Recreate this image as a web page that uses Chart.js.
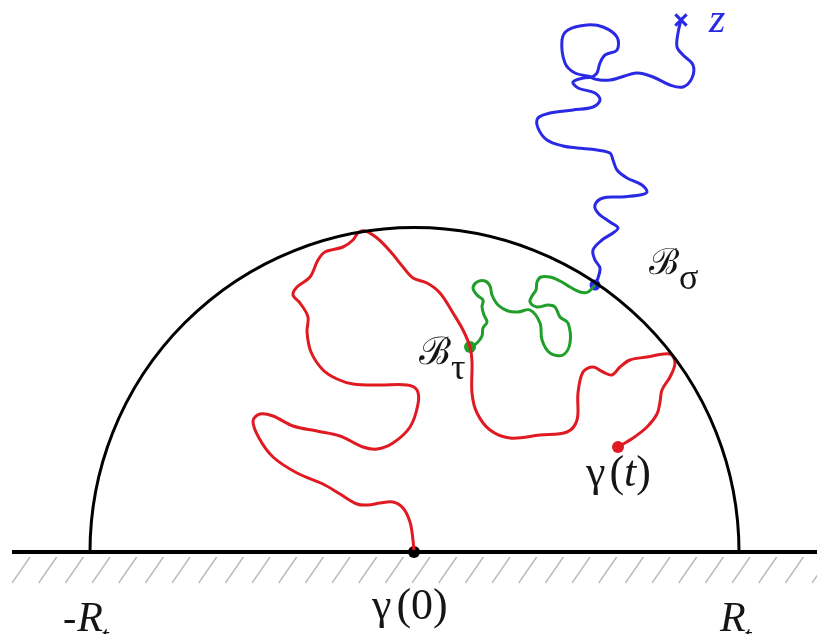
<!DOCTYPE html>
<html>
<head>
<meta charset="utf-8">
<title>Half disc with Brownian paths</title>
<script src="https://cdn.jsdelivr.net/npm/chart.js@4.4.1/dist/chart.umd.min.js"></script>
<style>
  html, body { margin: 0; padding: 0; background: #fff; }
  #wrap { width: 817px; height: 634px; }
</style>
</head>
<body>
<div id="wrap"><canvas id="diagram" width="817" height="634"></canvas></div>
<script>
// ====== Data (picture coordinates, y grows downward) ======
const GROUND = [[12, 552], [817, 552]];
const HALF_DISC = [[414.5, 552, 324.5]]; // centre x, centre y, radius R_t

const RED_PATH = [
  [414, 552], [413, 540], [410, 522], [403, 508], [393, 502], [380, 503], [368, 505], [357, 504],
  [340, 494], [323, 484], [297, 473], [273, 457], [259, 438], [253, 421], [260, 414], [273, 416],
  [293, 426], [317, 431], [340, 436], [363, 447], [377, 449], [393, 443], [410, 427], [418, 404],
  [417, 390], [407, 385], [380, 385], [353, 384], [337, 379], [323, 370], [311, 352], [307, 332],
  [308, 317], [300, 303], [293, 295], [297, 287], [310, 277], [318, 260], [325, 252], [343, 247],
  [353, 240], [358, 233], [365, 231], [377, 238], [390, 251], [403, 267], [413, 278], [427, 283],
  [440, 293], [453, 313], [463, 330], [470, 347],
  [472, 362], [472, 393], [477, 413], [490, 430], [510, 438], [540, 435], [567, 432], [577, 420],
  [578, 393], [583, 372], [593, 367], [603, 372], [612, 375], [620, 367], [630, 360], [647, 357],
  [670, 354], [675, 363], [670, 377], [662, 390], [660, 402], [657, 414], [647, 427], [633, 438],
  [618, 447]
];

const GREEN_PATH = [
  [470, 347], [477, 343], [482, 336], [483, 328], [487, 322], [484, 315], [482, 307], [483, 300],
  [477, 295], [473, 288], [477, 282], [485, 281], [490, 286], [492, 295], [498, 305], [508, 311],
  [518, 312], [530, 310], [540, 323], [542, 340], [550, 353], [563, 355], [570, 343], [568, 323],
  [560, 317], [555, 307], [548, 305], [537, 307], [530, 302], [532, 296], [536, 290], [537, 282],
  [541, 277], [550, 277], [560, 281], [570, 287], [580, 292], [588, 292], [595, 285]
];

const BLUE_PATH = [
  [595, 285], [598, 278], [600, 268], [595, 260], [593, 250], [602, 240], [613, 233], [618, 228],
  [610, 222], [598, 213], [595, 205], [603, 198], [620, 197], [640, 195], [647, 192], [642, 185],
  [627, 178], [617, 170], [613, 160], [610, 153], [597, 150], [577, 148], [563, 146], [547, 140],
  [538, 128], [538, 118], [550, 113], [573, 110], [593, 107], [600, 100], [595, 93], [578, 88],
  [573, 82], [583, 78], [592, 77], [575, 73], [565, 63], [562, 40], [568, 30], [587, 25],
  [603, 27], [617, 37], [617, 50], [605, 55], [600, 63], [597, 73], [592, 78], [610, 80],
  [637, 73], [653, 77], [670, 85], [683, 87], [692, 78], [693, 65], [683, 55], [677, 47],
  [678, 33], [681, 20]
];

const GAMMA_0 = [[414, 552]];
const B_TAU = [[470, 347]];
const B_SIGMA = [[595, 285]];
const GAMMA_T = [[618, 447]];
const Z_POINT = [[681, 20]];

// ====== Styles ======
const RED = '#e01a22';
const GREEN = '#1f9e2a';
const BLUE = '#2a2ae6';
const SERIF = '"Liberation Serif", "DejaVu Serif", serif';
const SCRIPT = '"DejaVu Serif", serif';

// runs: [text, font, dy, dx]
const LABELS = [
  { at: [63, 631], runs: [['-', `40px ${SERIF}`, 0, 0], ['R', `italic 42px ${SERIF}`, 0, 1], ['t', `italic 28px ${SERIF}`, 14, -2]] },
  { at: [720, 631], runs: [['R', `italic 42px ${SERIF}`, 0, 0], ['t', `italic 28px ${SERIF}`, 14, -2]] },
  { at: [372, 619], runs: [['γ', `44px ${SERIF}`, 0, 0], ['(0)', `44px ${SERIF}`, 0, 5]] },
  { at: [586, 486], runs: [['γ', `44px ${SERIF}`, 0, 0], ['(', `44px ${SERIF}`, 0, 4], ['t', `italic 44px ${SERIF}`, 0, 0], [')', `44px ${SERIF}`, 0, 0]] },
  { at: [709, 32], color: BLUE, runs: [['z', `italic 42px ${SERIF}`, 0, 0]] },
  { at: [649, 274], runs: [['ℬ', `36px ${SCRIPT}`, 0, 0], ['σ', `36px ${SERIF}`, 15, 0]] },
  { at: [419, 364], runs: [['ℬ', `38px ${SCRIPT}`, 0, 0], ['τ', `36px ${SERIF}`, 15, 0]] }
];

// ====== Helpers ======
const toXY = arr => arr.map(([x, y]) => ({ x, y }));

function makeHatch() {
  const c = document.createElement('canvas');
  c.width = 80; c.height = 28;
  const g = c.getContext('2d');
  g.strokeStyle = '#b9b9b9';
  g.lineWidth = 1.4;
  for (let i = 0; i < 3; i++) {
    const x0 = i * 80 / 3;
    g.beginPath();
    g.moveTo(x0, 27);
    g.lineTo(x0 + 18, 1);
    g.stroke();
  }
  const p = g.createPattern(c, 'repeat');
  p.setTransform(new DOMMatrix().translate(12, 556));
  return p;
}

function path(data, color, width) {
  return {
    type: 'scatter', data: toXY(data), showLine: true, tension: 0.35,
    borderColor: color, borderWidth: width, pointRadius: 0, fill: false
  };
}

function dot(data, color, r) {
  return {
    type: 'scatter', data: toXY(data), pointRadius: r,
    pointBackgroundColor: color, pointBorderColor: color, pointBorderWidth: 0
  };
}

// ====== Label plugin ======
const labelPlugin = {
  id: 'labels',
  afterDatasetsDraw(chart) {
    const ctx = chart.ctx;
    const sx = chart.scales.x, sy = chart.scales.y;
    LABELS.forEach(l => {
      let x = sx.getPixelForValue(l.at[0]);
      const y = sy.getPixelForValue(l.at[1]);
      ctx.save();
      ctx.fillStyle = l.color || '#151515';
      ctx.textBaseline = 'alphabetic';
      l.runs.forEach(([txt, font, dy, dx]) => {
        ctx.font = font;
        x += dx;
        ctx.fillText(txt, x, y + dy);
        x += ctx.measureText(txt).width;
      });
      ctx.restore();
    });
  }
};

// ====== Chart ======
const ctx = document.getElementById('diagram').getContext('2d');
new Chart(ctx, {
  type: 'scatter',
  data: {
    datasets: [
      {
        type: 'line', data: [{ x: 12, y: 556 }, { x: 817, y: 556 }],
        borderWidth: 0, pointRadius: 0, fill: { value: 584 }, backgroundColor: makeHatch()
      },
      {
        type: 'bubble', data: HALF_DISC.map(([x, y, r]) => ({ x, y, r })),
        backgroundColor: 'rgba(0,0,0,0)', borderColor: '#000', borderWidth: 3,
        clip: { left: false, top: false, right: false, bottom: -82 }
      },
      path(GROUND, '#000', 4),
      path(RED_PATH, RED, 3),
      path(GREEN_PATH, GREEN, 3),
      path(BLUE_PATH, BLUE, 3),
      dot(GAMMA_0, '#000', 6),
      dot(B_TAU, GREEN, 6),
      dot(B_SIGMA, BLUE, 5.5),
      dot(GAMMA_T, RED, 6),
      {
        type: 'scatter', data: toXY(Z_POINT), pointStyle: 'crossRot', pointRadius: 8,
        pointBorderColor: BLUE, pointBorderWidth: 3
      }
    ]
  },
  options: {
    responsive: false,
    animation: false,
    events: [],
    devicePixelRatio: 1,
    layout: { padding: 0, autoPadding: false },
    plugins: { legend: { display: false }, tooltip: { enabled: false } },
    scales: {
      x: { type: 'linear', display: false, min: 0, max: 817 },
      y: { type: 'linear', display: false, min: 0, max: 634, reverse: true }
    }
  },
  plugins: [labelPlugin]
});
</script>
</body>
</html>
